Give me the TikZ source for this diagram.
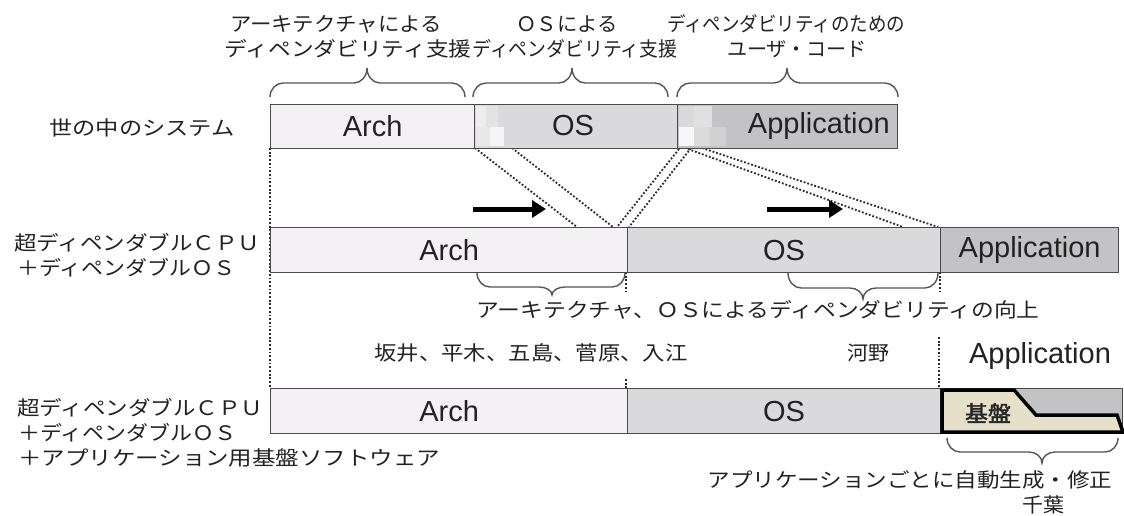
\documentclass[tikz,border=0pt]{standalone}
\usepackage{fontspec}
\usepackage{graphicx}
\setmainfont{Liberation Sans}
\newfontfamily\jp{Noto Sans CJK JP}
\newfontfamily\jpb[FakeBold=2]{Noto Sans CJK JP}
\usetikzlibrary{arrows.meta}
\definecolor{archc}{HTML}{F4F1F4}
\definecolor{osc}{HTML}{DADADD}
\definecolor{appc}{HTML}{C3C3C5}
\definecolor{boxline}{HTML}{4A4A4A}
\definecolor{dotc}{HTML}{2A2A2A}
\definecolor{bracec}{HTML}{555555}
\definecolor{kibanc}{HTML}{E6DFC9}
\definecolor{txtc}{HTML}{222222}
\newcommand\jt[2]{\resizebox{#1pt}{\height}{\jp\fontsize{20pt}{24pt}\selectfont #2}}
\def\br{13}
\newcommand\cbrace[6]{%
\draw[brc] (#1,#4) .. controls (#1,{#4+0.55*(#5-#4)}) and ({#1+0.45*\br},#5) .. ({#1+\br},#5)
 -- ({#3-\br},#5) .. controls ({#3-0.45*\br},#5) and (#3,{#6+0.55*(#5-#6)}) .. (#3,#6)
 .. controls (#3,{#6+0.55*(#5-#6)}) and ({#3+0.45*\br},#5) .. ({#3+\br},#5)
 -- ({#2-\br},#5) .. controls ({#2-0.45*\br},#5) and (#2,{#4+0.55*(#5-#4)}) .. (#2,#4);}
\tikzset{
 box/.style={draw=boxline, line width=1.2pt, inner sep=0pt, anchor=north west,
   text=txtc, font=\fontsize{29pt}{32pt}\selectfont},
 jl/.style={inner sep=0pt, text=txtc},
 lat/.style={inner sep=0pt, text=txtc, font=\fontsize{29pt}{32pt}\selectfont},
 dots/.style={draw=dotc, line width=1.8pt, dash pattern=on 1.8pt off 1.9pt},
 brc/.style={draw=bracec, line width=1.4pt},
 bigarrow/.style={draw=black, line width=5pt, -{Triangle[length=14pt,width=17pt]}}
}
\begin{document}
\begin{tikzpicture}[x=1pt,y=-1pt]
\useasboundingbox[fill=white] (0,0) rectangle (1124,515);

% ---- dotted guide lines (under boxes)
\coordinate (va) at (270,148);
\coordinate (vb) at (270,388);
\draw[dots] (va) -- (vb);
\coordinate (p1a) at (475,148); \coordinate (p1b) at (577,227);
\coordinate (p2a) at (512,148); \coordinate (p2b) at (613,227);
\coordinate (p3a) at (679,149); \coordinate (p3b) at (617,227);
\coordinate (p4a) at (691,148); \coordinate (p4b) at (629,227);
\coordinate (p5a) at (688,149); \coordinate (p5b) at (903,227);
\coordinate (p6a) at (702,148); \coordinate (p6b) at (938,227);
\draw[dots] (p1a) -- (p1b);
\draw[dots] (p2a) -- (p2b);
\draw[dots] (p3a) -- (p3b);
\draw[dots] (p4a) -- (p4b);
\draw[dots] (p5a) -- (p5b);
\draw[dots] (p6a) -- (p6b);
\coordinate (s1a) at (626,272); \coordinate (s1b) at (626,291);
\coordinate (s2a) at (940,272); \coordinate (s2b) at (940,293);
\coordinate (s3a) at (626,379); \coordinate (s3b) at (626,388);
\coordinate (s4a) at (939,337); \coordinate (s4b) at (939,388);
\draw[dots] (s1a) -- (s1b);
\draw[dots] (s2a) -- (s2b);
\draw[dots] (s3a) -- (s3b);
\draw[dots] (s4a) -- (s4b);

% ---- top row
\node[box, fill=archc, minimum width=204pt, minimum height=44pt] (tArch) at (270,104) {Arch};
\node[box, fill=osc, minimum width=203pt, minimum height=44pt] (tOS) at (474,104) {};
\node[box, fill=appc, minimum width=220pt, minimum height=44pt] (tApp) at (677,104) {};
% pixel patches
\fill[color=black!7] (475.6,105.6) rectangle (486,127);
\fill[color=black!11] (486,105.6) rectangle (498,127);
\fill[color=black!9] (475.6,127) rectangle (490,146.4);
\fill[color=black!4] (490,127) rectangle (504,146.4);
\fill[color=black!15] (678.6,105.6) rectangle (694,127);
\fill[color=black!12] (694,105.6) rectangle (712,127);
\fill[color=black!3] (678.6,127) rectangle (694,146.4);
\fill[color=black!14] (694,127) rectangle (710,146.4);
\fill[color=black!18] (710,127) rectangle (726,146.4);
\node[lat] (tOSt) at (573,126) {OS};
\node[lat, anchor=east] (tAppt) at (890,126) {Application};

% ---- middle row
\node[box, fill=archc, minimum width=357pt, minimum height=45pt] (mArch) at (270,227) {Arch};
\node[box, fill=osc, minimum width=313pt, minimum height=45pt] (mOS) at (627,227) {OS};
\node[box, fill=appc, minimum width=178pt, minimum height=45pt] (mApp) at (940,227) {Application};

% ---- bottom row
\node[box, fill=archc, minimum width=357pt, minimum height=45pt] (bArch) at (270,388) {Arch};
\node[box, fill=osc, minimum width=313pt, minimum height=45pt] (bOS) at (627,388) {OS};
\node[box, fill=appc, minimum width=182pt, minimum height=45pt] (bApp) at (940,388) {};
\draw[line width=3.5pt, fill=kibanc, line join=miter]
  (942,390) -- (1014,390) -- (1036,415) -- (1117,415) -- (1123,432) -- (942,432) -- cycle;
\node[jl] (kiban) at (988,413) {\resizebox{46pt}{\height}{\jpb\fontsize{22pt}{24pt}\selectfont\color{black!85}基盤}};

% ---- arrows
\coordinate (a1s) at (473,209); \coordinate (a1e) at (546,209);
\coordinate (a2s) at (767,209); \coordinate (a2e) at (843,209);
\draw[bigarrow] (a1s) -- (a1e);
\draw[bigarrow] (a2s) -- (a2e);

% ---- braces
\cbrace{270}{465}{367}{97}{83}{68}
\cbrace{473}{668}{572}{97}{83}{68}
\cbrace{677}{898}{787}{97}{83}{68}
\cbrace{477}{625}{552}{273}{287}{295}
\cbrace{788}{938}{863}{273}{288}{299}
\cbrace{947}{1118}{1042}{438}{452}{463}

% ---- texts
\node[jl] (t1) at (336,24) {\jt{212}{アーキテクチャによる}};
\node[jl] (t2) at (348,49) {\jt{247}{ディペンダビリティ支援}};
\node[jl] (t3) at (567,24) {\jt{101}{ＯＳによる}};
\node[jl] (t4) at (575,49) {\jt{205}{ディペンダビリティ支援}};
\node[jl] (t5) at (786,24) {\jt{238}{ディペンダビリティのための}};
\node[jl] (t6) at (797,49) {\jt{140}{ユーザ・コード}};
\node[jl] (l1) at (142,128) {\jt{185}{世の中のシステム}};
\node[jl, anchor=west] (l2a) at (14,243) {\jt{246}{超ディペンダブルＣＰＵ}};
\node[jl, anchor=west] (l2b) at (17,268) {\jt{218}{＋ディペンダブルＯＳ}};
\node[jl] (m1) at (758,310) {\jt{563}{アーキテクチャ、ＯＳによるディペンダビリティの向上}};
\node[jl] (n1) at (531,353) {\jt{313}{坂井、平木、五島、菅原、入江}};
\node[jl] (n2) at (868,353) {\jt{42}{河野}};
\node[lat] (appl) at (1040,356) {Application};
\node[jl, anchor=west] (l3a) at (17,408) {\jt{246}{超ディペンダブルＣＰＵ}};
\node[jl, anchor=west] (l3b) at (18,433) {\jt{218}{＋ディペンダブルＯＳ}};
\node[jl, anchor=west] (l3c) at (18,458) {\jt{422}{＋アプリケーション用基盤ソフトウェア}};
\node[jl] (b1) at (910,480) {\jt{405}{アプリケーションごとに自動生成・修正}};
\node[jl] (b2) at (1043,505) {\jt{42}{千葉}};
\end{tikzpicture}
\end{document}
